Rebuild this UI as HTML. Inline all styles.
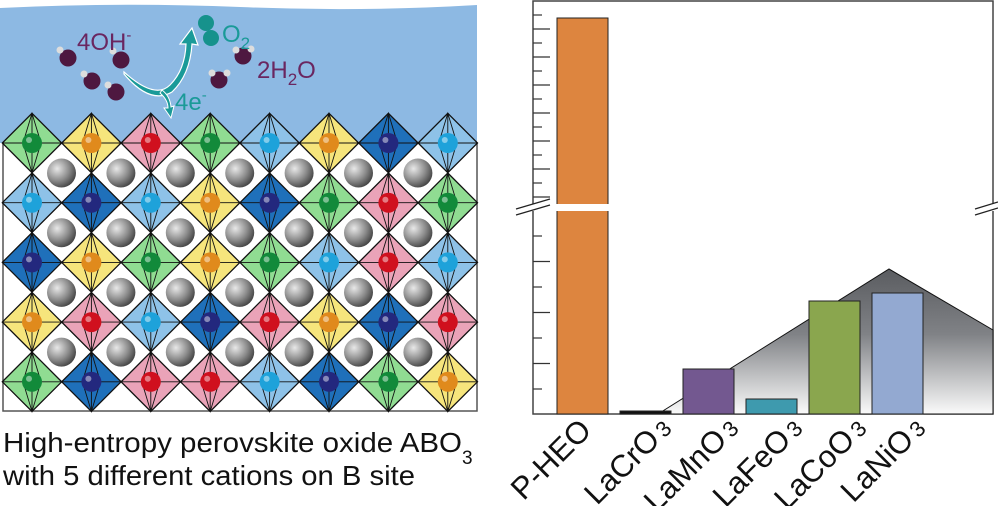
<!DOCTYPE html>
<html><head><meta charset="utf-8"><style>
html,body{margin:0;padding:0;background:#fff;width:998px;height:506px;overflow:hidden}
svg{display:block;font-family:"Liberation Sans",Arial,sans-serif}
</style></head><body>
<svg id="s" width="998" height="506" viewBox="0 0 998 506" xmlns="http://www.w3.org/2000/svg">
<defs>
<radialGradient id="gg" cx="0.35" cy="0.35" r="0.7"><stop offset="0" stop-color="#e8e8e8"/><stop offset="0.6" stop-color="#8a8a8a"/><stop offset="1" stop-color="#444"/></radialGradient>
<linearGradient id="tri" x1="0" y1="0" x2="0" y2="1"><stop offset="0" stop-color="#5a5c60"/><stop offset="0.45" stop-color="#808286"/><stop offset="1" stop-color="#fafafa"/></linearGradient>
</defs>
<path d="M0,8 Q120,2 240,7 T477,5 L477,143 L0,143 Z" fill="#8db9e3"/>
<rect x="3" y="143" width="474" height="268" fill="#fff" stroke="#555" stroke-width="1.5"/>
<g id="lat"></g>
<g>
<circle cx="68" cy="58" r="8.5" fill="#4e1840"/><circle cx="60" cy="50" r="3.5" fill="#ddd"/>
<circle cx="121" cy="60" r="8.5" fill="#4e1840"/><circle cx="113" cy="51" r="3.5" fill="#ddd"/>
<circle cx="92" cy="81" r="8.5" fill="#4e1840"/><circle cx="84" cy="74" r="3.5" fill="#ddd"/>
<circle cx="116" cy="92" r="8.5" fill="#4e1840"/><circle cx="108" cy="85" r="3.5" fill="#ddd"/>
<circle cx="206" cy="23" r="8" fill="#16928c"/><circle cx="211" cy="38" r="8" fill="#16928c"/>
<circle cx="243" cy="56" r="8.5" fill="#4e1840"/><circle cx="236" cy="50" r="3.5" fill="#ddd"/><circle cx="251" cy="49" r="3.5" fill="#ddd"/>
<circle cx="219" cy="80" r="8.5" fill="#4e1840"/><circle cx="212" cy="73" r="3.5" fill="#ddd"/><circle cx="227" cy="73" r="3.5" fill="#ddd"/>
<path d="M124,72 Q155,100 170,85 Q185,70 186,44 L180,44 L192,28 L198,45 L192,44 Q190,75 172,92 Q150,105 124,74 Z" fill="#1a9a98" stroke="#fff" stroke-width="1.2"/>
<path d="M160,93 Q168,100 168,108 L164,108 L171,118 L174,106 L171,107 Q170,96 162,90 Z" fill="#1a9a98" stroke="#fff" stroke-width="1"/>
<text x="77" y="50" font-size="24" fill="#6a2660">4OH<tspan dy="-10" font-size="15">-</tspan></text>
<text x="222" y="42" font-size="24" fill="#1a9a98">O<tspan dy="7" font-size="17">2</tspan></text>
<text x="257" y="78" font-size="24" fill="#6a2660">2H<tspan dy="7" font-size="17">2</tspan><tspan dy="-7">O</tspan></text>
<text x="175" y="110" font-size="24" fill="#1a9a98">4e<tspan dy="-10" font-size="15">-</tspan></text>
</g>
<text x="3" y="452" font-size="28" fill="#111" textLength="459" lengthAdjust="spacingAndGlyphs">High-entropy perovskite oxide ABO</text>
<text x="462" y="464" font-size="19" fill="#111">3</text>
<text x="3" y="485" font-size="28" fill="#111" textLength="412" lengthAdjust="spacingAndGlyphs">with 5 different cations on B site</text>
<rect x="533" y="1" width="460" height="413" fill="#fff" stroke="#444" stroke-width="1.5"/>
<polygon points="658,414 889,269 993,330 993,414" fill="url(#tri)" stroke="#111" stroke-width="1"/>
<g stroke="#222" stroke-width="1">
<rect x="557" y="18" width="51" height="396" fill="#dd853f"/>
<rect x="620" y="411" width="51" height="3" fill="#111"/>
<rect x="683" y="369" width="51" height="45" fill="#735890"/>
<rect x="746" y="399" width="51" height="15" fill="#3e9aae"/>
<rect x="809" y="301" width="51" height="113" fill="#8aa64e"/>
<rect x="872" y="293" width="51" height="121" fill="#93a9d1"/>
</g>
<rect x="530" y="204" width="80" height="7" fill="#fff"/>
<rect x="988" y="204" width="10" height="7" fill="#fff"/>
<g stroke="#222" stroke-width="1.2">
<line x1="516" y1="215" x2="550" y2="205"/><line x1="516" y1="209" x2="550" y2="199"/>
<line x1="975" y1="215" x2="998" y2="208"/><line x1="975" y1="209" x2="998" y2="202"/>
</g>
<g id="ticks" stroke="#333" stroke-width="1.2"></g>
<g font-size="31" fill="#111" text-anchor="end">
<text transform="translate(593,432) rotate(-45)">P-HEO</text>
<text transform="translate(673,430) rotate(-45)">LaCrO<tspan font-size="22" dx="4">3</tspan></text>
<text transform="translate(740,430) rotate(-45)">LaMnO<tspan font-size="22" dx="4">3</tspan></text>
<text transform="translate(804,430) rotate(-45)">LaFeO<tspan font-size="22" dx="4">3</tspan></text>
<text transform="translate(868,430) rotate(-45)">LaCoO<tspan font-size="22" dx="4">3</tspan></text>
<text transform="translate(927,430) rotate(-45)">LaNiO<tspan font-size="22" dx="4">3</tspan></text>
</g>
</svg>
<script>
var NS="http://www.w3.org/2000/svg";
function el(t,a,p){var e=document.createElementNS(NS,t);for(var k in a)e.setAttribute(k,a[k]);p.appendChild(e);return e;}
var lat=document.getElementById('lat');
var F={G:'#90dc92',Y:'#f6e57c',P:'#eaa3b8',L:'#8ec2e8',D:'#1f70ba'};
var S={G:'#128a3a',Y:'#e08a1c',P:'#d0101e',L:'#1ea2da',D:'#23287e'};
var rows=["GYPGLYDL","LDLYDGPG","DYGYGLPL","YPLDPYDP","GDPPLDGY"];
var h=29.7,dx=59.4,dy=59.7;
for(var j=0;j<4;j++)for(var i=0;i<7;i++){el('circle',{cx:61.5+dx*i,cy:173+dy*j,r:14.5,fill:'url(#gg)'},lat);}
for(var j=0;j<5;j++)for(var i=0;i<8;i++){
 var c=rows[j][i],x=32+dx*i,y=143+dy*j;
 el('polygon',{points:[x,y-h,x+h,y,x,y+h,x-h,y].join(','),fill:F[c],stroke:'#111','stroke-width':1.3},lat);
 el('path',{d:'M'+x+','+(y-h)+'V'+(y+h)+'M'+(x-h)+','+y+'H'+(x+h)+'M'+(x-9)+','+y+'L'+x+','+(y-h)+'L'+(x+9)+','+y+'L'+x+','+(y+h)+'Z',fill:'none',stroke:'#111','stroke-width':0.9},lat);
 el('circle',{cx:x,cy:y,r:10,fill:S[c]},lat);
 el('circle',{cx:x-3,cy:y-3,r:3,fill:'#fff',opacity:0.45},lat);
}
var tk=document.getElementById('ticks');
for(var k=0;k<14;k++){var y=15+k*14;el('line',{x1:533,x2:533+(k%2?17:9),y1:y,y2:y},tk);}
for(var k=0;k<7;k++){var y=236+k*25.5;el('line',{x1:533,x2:533+(k%2?17:9),y1:y,y2:y},tk);}
</script>
</body></html>
